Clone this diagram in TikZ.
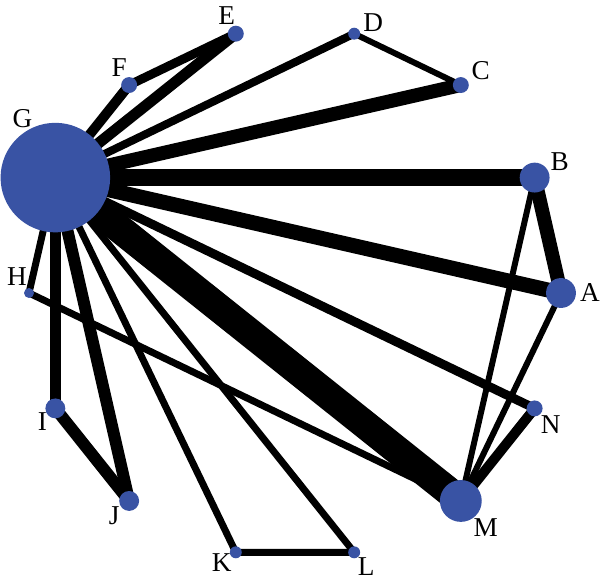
\documentclass[tikz,border=0pt]{standalone}
\usepackage{fontspec}
\setmainfont{Liberation Serif}
\usetikzlibrary{positioning}
\definecolor{netblue}{RGB}{57,83,164}
\pgfdeclarelayer{background}
\pgfsetlayers{background,main}

\begin{document}
\begin{tikzpicture}[x=0.02cm,y=0.02cm,
    vert/.style={circle,fill=netblue,inner sep=0pt,minimum size={#1*1.1338pt}},
    lbl/.style={font=\fontsize{15.5}{18}\selectfont,inner sep=0pt},
    link/.style={line width={#1*0.5669pt},line cap=butt,draw=black}]

\useasboundingbox (-295,-293) rectangle (305,293);

% vertices around the circle, radius in px
\foreach \n/\r/\lx/\ly [count=\i from 0] in
    {A/15/29/0, B/15/25/16, C/8/20/14, D/6/19/11, E/8/-9/18, F/8/-10/17,
     G/55/-33/59, H/5/-12/16, I/10/-13/-13, J/10/-15/-15, K/6/-14/-10,
     L/6/12/-14, M/21/25/-27, N/8/16/-16}
{
  \node[vert=\r] (\n) at ({\i*360/14}:266) {};
  \node[lbl] (l\n) at ([shift={(\lx,\ly)}]\n.center) {\n};
}

% links, width in px
\begin{pgfonlayer}{background}
\foreach \a/\b/\w in
    {G/E/11, G/F/10, F/E/9, G/D/8, D/C/6, G/C/14, G/B/17, B/A/14,
     G/A/15, G/N/9, G/M/29, B/M/6, A/M/6, N/M/10, H/M/7, G/H/7,
     G/I/11, G/J/12, I/J/12, G/K/7, G/L/7, K/L/7}
  \draw[link=\w] (\a.center) -- (\b.center);
\end{pgfonlayer}

\end{tikzpicture}
\end{document}
